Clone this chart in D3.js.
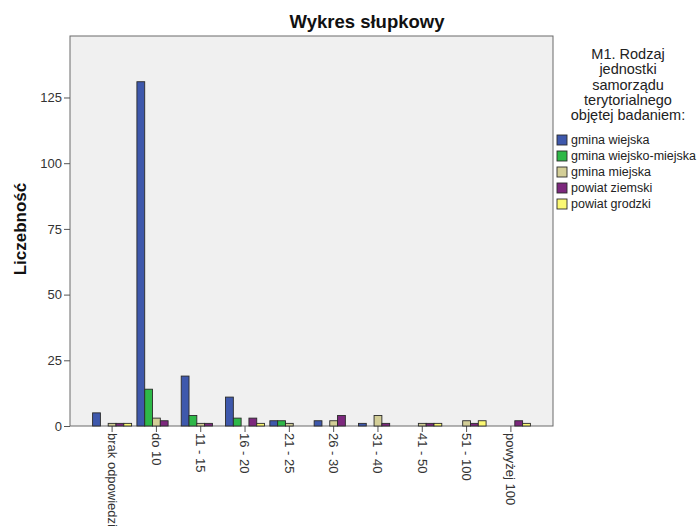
<!DOCTYPE html>
<html>
<head>
<meta charset="utf-8">
<script src="https://cdn.jsdelivr.net/npm/d3@7"></script>
<style>
  body { margin: 0; background: #fff; }
  text { font-family: "Liberation Sans", Arial, sans-serif; }
</style>
</head>
<body>
<div id="chart"></div>
<script>
// categories on the x axis
const categories = ["brak odpowiedzi", "do 10", "11 - 15", "16 - 20", "21 - 25", "26 - 30", "31 - 40", "41 - 50", "51 - 100", "powyżej 100"];

// series (legend order)
const seriesNames = ["gmina wiejska", "gmina wiejsko-miejska", "gmina miejska", "powiat ziemski", "powiat grodzki"];
const seriesColors = ["#3e58ac", "#2eb848", "#d3ce97", "#7c287d", "#fbf873"];

// counts per category
const gminaWiejska        = [5, 131, 19, 11, 2, 2, 1, 0, 0, 0];
const gminaWiejskoMiejska = [0, 14, 4, 3, 2, 0, 0, 0, 0, 0];
const gminaMiejska        = [1, 3, 1, 0, 1, 2, 4, 1, 2, 0];
const powiatZiemski       = [1, 2, 1, 3, 0, 4, 1, 1, 1, 2];
const powiatGrodzki       = [1, 0, 0, 1, 0, 0, 0, 1, 2, 1];

const yTicks = [0, 25, 50, 75, 100, 125];

const seriesValues = [gminaWiejska, gminaWiejskoMiejska, gminaMiejska, powiatZiemski, powiatGrodzki];

// chart size
const w = 700;
const h = 526;
const plot = { left: 70, top: 36, right: 553, bottom: 426 };

const svg = d3.select("#chart")
              .append("svg")
              .attr("width", w)
              .attr("height", h);

// scales
const x0 = d3.scaleBand()
             .domain(categories)
             .range([plot.left, plot.right])
             .paddingInner(0.12)
             .paddingOuter(0.51);
const x1 = d3.scaleBand()
             .domain(seriesNames)
             .range([0, x0.bandwidth()]);
const y = d3.scaleLinear()
            .domain([0, 148.4])
            .range([plot.bottom, plot.top]);
const color = d3.scaleOrdinal()
                .domain(seriesNames)
                .range(seriesColors);

// plot background + frame
svg.append("rect")
   .attr("x", plot.left)
   .attr("y", plot.top)
   .attr("width", plot.right - plot.left)
   .attr("height", plot.bottom - plot.top)
   .attr("fill", "#f0f0f0")
   .attr("stroke", "#6a6a6a")
   .attr("stroke-width", 1);

// title
svg.append("text")
   .text("Wykres słupkowy")
   .attr("x", 367)
   .attr("y", 28)
   .attr("text-anchor", "middle")
   .style("font-size", "18.5px")
   .style("font-weight", "bold")
   .attr("fill", "#111");

// y axis (frame already draws the axis line)
const yAxis = svg.append("g")
   .attr("transform", "translate(" + plot.left + ",0)")
   .call(d3.axisLeft(y).tickValues(yTicks).tickSizeOuter(0).tickSize(6).tickPadding(2));
yAxis.select(".domain").remove();
yAxis.selectAll(".tick line").attr("stroke", "#555");
yAxis.selectAll(".tick text")
     .style("font-size", "13px")
     .attr("fill", "#333");

svg.append("text")
   .text("Liczebność")
   .attr("transform", "translate(26,229) rotate(-90)")
   .attr("text-anchor", "middle")
   .style("font-size", "17px")
   .style("font-weight", "bold")
   .attr("fill", "#111");

// x axis
const xAxis = svg.append("g")
   .attr("transform", "translate(0," + plot.bottom + ")")
   .call(d3.axisBottom(x0).tickSizeOuter(0).tickSize(6));
xAxis.select(".domain").remove();
xAxis.selectAll(".tick line").attr("stroke", "#555");
xAxis.selectAll(".tick text")
     .attr("transform", "rotate(90)")
     .attr("x", 7)
     .attr("y", 0)
     .attr("dy", "0.35em")
     .attr("text-anchor", "start")
     .style("font-size", "13px")
     .attr("fill", "#333");

// bars
const rows = categories.map((c, i) => ({
    category: c,
    values: seriesNames.map((s, j) => ({ series: s, value: seriesValues[j][i] }))
}));

svg.append("g")
   .selectAll("g")
   .data(rows)
   .enter()
   .append("g")
   .attr("transform", d => "translate(" + x0(d.category) + ",0)")
   .selectAll("rect")
   .data(d => d.values.filter(v => v.value > 0))
   .enter()
   .append("rect")
   .attr("x", d => x1(d.series))
   .attr("y", d => y(d.value))
   .attr("width", x1.bandwidth())
   .attr("height", d => y(0) - y(d.value))
   .attr("fill", d => color(d.series))
   .attr("stroke", "#2a2a2a")
   .attr("stroke-width", 0.9);

// legend
const legend = svg.append("g").attr("id", "legend");
const legendTitle = ["M1. Rodzaj", "jednostki", "samorządu", "terytorialnego", "objętej badaniem:"];
legend.selectAll("text.title")
      .data(legendTitle)
      .enter()
      .append("text")
      .attr("class", "title")
      .text(d => d)
      .attr("x", 628)
      .attr("y", (d, i) => 59 + i * 15.3)
      .attr("text-anchor", "middle")
      .style("font-size", "14.5px")
      .attr("fill", "#222");

const items = legend.selectAll("g.item")
      .data(seriesNames)
      .enter()
      .append("g")
      .attr("class", "item")
      .attr("transform", (d, i) => "translate(557," + (140 + i * 16) + ")");
items.append("rect")
     .attr("x", 0)
     .attr("y", -5)
     .attr("width", 10)
     .attr("height", 10)
     .attr("fill", d => color(d))
     .attr("stroke", "#2a2a2a")
     .attr("stroke-width", 0.9);
items.append("text")
     .text(d => d)
     .attr("x", 14)
     .attr("dy", "0.35em")
     .style("font-size", "12.5px")
     .attr("fill", "#222");
</script>
</body>
</html>
